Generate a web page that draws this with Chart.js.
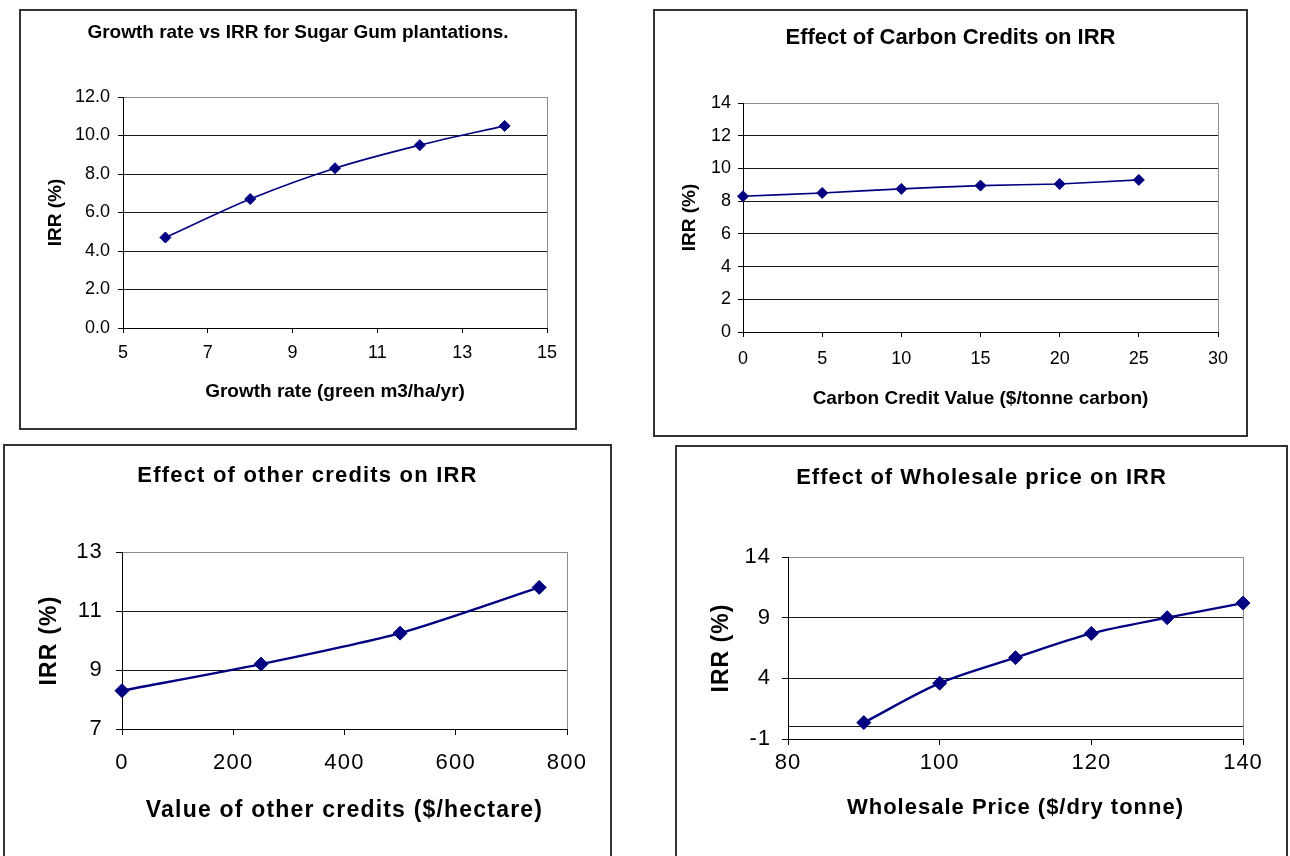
<!DOCTYPE html>
<html>
<head>
<meta charset="utf-8">
<script src="https://cdn.jsdelivr.net/npm/chart.js@4.4.1/dist/chart.umd.min.js"></script>
<style>
  html, body { margin: 0; padding: 0; background: #fff; width: 1290px; height: 856px; overflow: hidden; }
  .panel { position: absolute; box-sizing: border-box; border: 2px solid #333; background: #fff; }
  .panel canvas { position: absolute; left: 0; top: 0; }
</style>
</head>
<body>
<div class="panel" style="left:19px;top:9px;width:558px;height:421px"><canvas id="growthChart" width="554" height="417"></canvas></div>
<div class="panel" style="left:653px;top:9px;width:595px;height:428px"><canvas id="carbonChart" width="591" height="424"></canvas></div>
<div class="panel" style="left:3px;top:444px;width:609px;height:430px"><canvas id="otherChart" width="605" height="410"></canvas></div>
<div class="panel" style="left:675px;top:445px;width:613px;height:430px"><canvas id="wholesaleChart" width="609" height="409"></canvas></div>

<script>
// ---- Sugar Gum plantation IRR sensitivity data ----
const growthRates = [6, 8, 10, 12, 14];               // green m3/ha/yr
const growthIrr = [4.7, 6.7, 8.3, 9.5, 10.5];         // %
const growthXTicks = [5, 7, 9, 11, 13, 15];
const growthYTicks = [0, 2, 4, 6, 8, 10, 12];

const carbonValues = [0, 5, 10, 15, 20, 25];          // $/tonne carbon
const carbonIrr = [8.3, 8.5, 8.75, 8.95, 9.05, 9.3];
const carbonXTicks = [0, 5, 10, 15, 20, 25, 30];
const carbonYTicks = [0, 2, 4, 6, 8, 10, 12, 14];

const otherCredits = [0, 250, 500, 750];              // $/hectare
const otherIrr = [8.3, 9.2, 10.25, 11.8];
const otherXTicks = [0, 200, 400, 600, 800];
const otherYTicks = [7, 9, 11, 13];

const wholesalePrices = [90, 100, 110, 120, 130, 140]; // $/dry tonne
const wholesaleIrr = [0.35, 3.6, 5.7, 7.7, 9.0, 10.2];
const wholesaleXTicks = [80, 100, 120, 140];
const wholesaleYTicks = [-1, 4, 9, 14];
const wholesaleBaseline = 0;

const NAVY = '#000080';
const FRAME_GREY = '#8c8c8c';
const GRID = '#1a1a1a';
const FONT = '"Liberation Sans", Arial, Helvetica, sans-serif';

// Applies a canvas letter spacing to every text the chart measures and draws.
const letterSpacingPlugin = {
  id: 'letterSpacing',
  beforeLayout(chart, args, opts) { chart.ctx.letterSpacing = (opts.px || 0) + 'px'; },
  beforeDraw(chart, args, opts) { chart.ctx.letterSpacing = (opts.px || 0) + 'px'; }
};

function irrChart(id, s) {
  const canvas = document.getElementById(id);
  const W = canvas.width, H = canvas.height;
  const plot = s.plot;                       // plot rectangle inside the canvas
  const side = W - plot.right;               // equal side padding keeps titles centred
  const yTickValues = s.baseline === undefined ? s.yTicks.slice()
    : s.yTicks.concat([s.baseline]).sort((a, b) => a - b);
  const yMax = s.yTicks[s.yTicks.length - 1];
  const xMax = s.xTicks[s.xTicks.length - 1];

  return new Chart(canvas, {
    type: 'line',
    plugins: [letterSpacingPlugin],
    data: {
      datasets: [{
        data: s.xs.map((x, i) => ({ x: x, y: s.ys[i] })),
        borderColor: NAVY,
        backgroundColor: NAVY,
        pointBackgroundColor: NAVY,
        pointBorderColor: NAVY,
        borderWidth: s.lineWidth,
        pointStyle: 'rectRot',
        pointRadius: s.marker,
        pointBorderWidth: 1,
        tension: s.tension,
        clip: false
      }]
    },
    options: {
      responsive: false,
      animation: false,
      events: [],
      layout: { padding: { left: side, right: side, top: 0, bottom: 0 } },
      plugins: {
        legend: { display: false },
        tooltip: { enabled: false },
        letterSpacing: { px: s.spacing || 0 },
        title: {
          display: true,
          text: s.title,
          color: '#000',
          font: { family: FONT, size: s.titleSize, weight: 'bold' },
          padding: {
            top: s.titleY - 0.6 * s.titleSize,
            bottom: plot.top - s.titleY - 0.6 * s.titleSize
          }
        }
      },
      scales: {
        x: {
          type: 'linear',
          min: s.xTicks[0],
          max: xMax,
          afterBuildTicks: sc => { sc.ticks = s.xTicks.map(v => ({ value: v })); },
          afterFit: sc => { sc.height = H - plot.bottom; },
          ticks: {
            color: '#000',
            font: { family: FONT, size: s.tickSize },
            padding: s.xPad,
            maxRotation: 0,
            autoSkip: false,
            callback: v => String(v)
          },
          grid: {
            color: c => (c.tick && c.tick.value === xMax) ? FRAME_GREY : 'rgba(0,0,0,0)',
            tickColor: '#000',
            tickLength: s.tl,
            lineWidth: 1
          },
          border: { color: '#000', width: 1 },
          title: {
            display: true,
            text: s.xTitle,
            color: '#000',
            font: { family: FONT, size: s.xTitleSize, weight: 'bold' },
            padding: { top: 0, bottom: H - s.xTitleY - 0.6 * s.xTitleSize }
          }
        },
        y: {
          type: 'linear',
          min: s.yTicks[0],
          max: yMax,
          afterBuildTicks: sc => { sc.ticks = yTickValues.map(v => ({ value: v })); },
          afterFit: sc => { sc.width = plot.left - side; },
          ticks: {
            color: '#000',
            font: { family: FONT, size: s.tickSize },
            padding: s.yPad,
            autoSkip: false,
            callback: v => (v === s.baseline ? '' : (s.decimals ? v.toFixed(s.decimals) : String(v)))
          },
          grid: {
            color: c => (c.tick && c.tick.value === yMax) ? FRAME_GREY : GRID,
            tickColor: c => (c.tick && c.tick.value === s.baseline) ? 'rgba(0,0,0,0)' : '#000',
            tickLength: s.tl,
            lineWidth: 1
          },
          border: { color: '#000', width: 1 },
          title: {
            display: true,
            text: 'IRR (%)',
            color: '#000',
            font: { family: FONT, size: s.yTitleSize, weight: 'bold' },
            padding: { top: s.yTitleX - side - 0.6 * s.yTitleSize, bottom: 0 }
          }
        }
      }
    }
  });
}

irrChart('growthChart', {
  xs: growthRates, ys: growthIrr, xTicks: growthXTicks, yTicks: growthYTicks, decimals: 1,
  title: 'Growth rate vs IRR for Sugar Gum plantations.',
  xTitle: 'Growth rate (green m3/ha/yr)',
  plot: { left: 102, top: 86, right: 526, bottom: 317 },
  titleSize: 19, titleY: 22,
  tickSize: 18, tl: 5, xPad: 9, yPad: 8,
  xTitleSize: 19, xTitleY: 381, yTitleSize: 19, yTitleX: 35,
  lineWidth: 1.6, marker: 5.5, tension: 0.3
});

irrChart('carbonChart', {
  xs: carbonValues, ys: carbonIrr, xTicks: carbonXTicks, yTicks: carbonYTicks,
  title: 'Effect of Carbon Credits on IRR',
  xTitle: 'Carbon Credit Value ($/tonne carbon)',
  plot: { left: 88, top: 92, right: 563, bottom: 321 },
  titleSize: 22, titleY: 27,
  tickSize: 18, tl: 5, xPad: 11, yPad: 7,
  xTitleSize: 19, xTitleY: 388, yTitleSize: 19, yTitleX: 35,
  lineWidth: 1.6, marker: 5.5, tension: 0.2
});

irrChart('otherChart', {
  xs: otherCredits, ys: otherIrr, xTicks: otherXTicks, yTicks: otherYTicks,
  title: 'Effect of other credits on IRR',
  xTitle: 'Value of other credits ($/hectare)',
  plot: { left: 117, top: 106, right: 562, bottom: 283 },
  titleSize: 22, titleY: 30, spacing: 1.2,
  tickSize: 22, tl: 6, xPad: 15, yPad: 13,
  xTitleSize: 23, xTitleY: 365, yTitleSize: 23, yTitleX: 45,
  lineWidth: 2.4, marker: 7, tension: 0.25
});

irrChart('wholesaleChart', {
  xs: wholesalePrices, ys: wholesaleIrr, xTicks: wholesaleXTicks, yTicks: wholesaleYTicks,
  baseline: wholesaleBaseline,
  title: 'Effect of Wholesale price on IRR',
  xTitle: 'Wholesale Price ($/dry tonne)',
  plot: { left: 111, top: 110, right: 566, bottom: 292 },
  titleSize: 22, titleY: 31, spacing: 1,
  tickSize: 22, tl: 6, xPad: 5, yPad: 11,
  xTitleSize: 22, xTitleY: 361, yTitleSize: 23, yTitleX: 45,
  lineWidth: 2.4, marker: 7, tension: 0.3
});
</script>
</body>
</html>
